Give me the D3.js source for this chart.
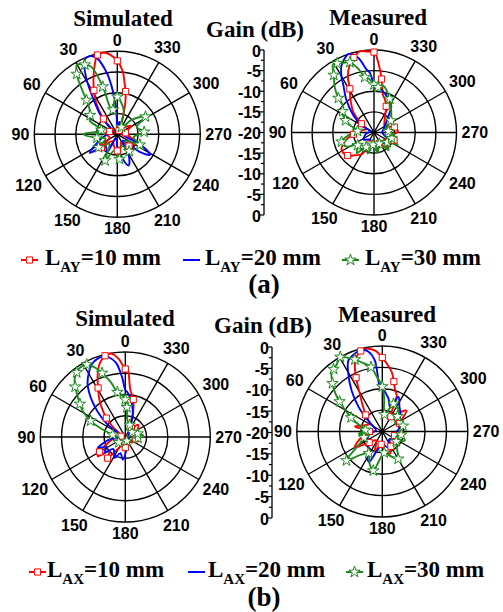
<!DOCTYPE html>
<html><head><meta charset="utf-8">
<script src="https://cdn.jsdelivr.net/npm/d3@7"></script>
<style>body{margin:0;background:#fff}svg{display:block}</style>
</head><body>
<svg id="c" width="503" height="612"></svg>
<script>
// ---- data: [angle (deg, counter-clockwise from top), gain (dB)] ----
const angleTicks = [0,30,60,90,120,150,180,210,240,270,300,330];
const gainTickLabels = ["0","-5","-10","-15","-20","-15","-10","-5","0"];
const ringLevels = [-15,-10,-5,0];
const legendA = ["AY","AY","AY"];
const legendB = ["AX","AX","AX"];
const legendValues = ["=10 mm","=20 mm","=30 mm"];

const simA10 = [[0,-2.3],[5,-0.8],[10,0],[14,-0.3],[18,-2.4],[23,-5.3],[28,-8],[32,-10],[37,-12.5],[42,-15],[48,-17.5],[55,-19],[70,-18],[90,-17],[110,-18],[130,-15],[145,-18],[165,-17],[180,-16],[195,-17],[210,-18],[225,-16],[245,-15],[260,-17],[280,-18],[300,-16],[320,-18],[335,-19],[342,-16],[346,-12],[349,-9.5],[352,-7.5],[355,-4.8]];
const simA20 = [[0,-18],[2,-16],[4,-12],[7,-8],[10,-4.7],[15,-1],[20,0],[24,-0.5],[29,-4.6],[34,-9.6],[42,-14.3],[50,-18.5],[65,-19],[85,-18],[105,-16],[124,-12],[135,-16],[150,-15],[165,-19],[180,-17],[192,-14],[200,-12],[208,-14],[220,-18],[232,-13],[238,-10.7],[244,-13],[255,-18],[275,-19],[300,-18],[330,-19],[350,-17]];
const simA30 = [[0,-11],[5,-12],[10,-14],[14,-13.8],[17,-8],[21,-2.6],[25,-1.5],[30,-0.6],[34,-2.5],[38,-6],[42,-8.9],[47,-10.8],[55,-12],[64,-12.7],[75,-16],[90,-11.8],[100,-15],[110,-17],[125,-14.5],[140,-17],[155,-13],[170,-16],[185,-14],[200,-17],[215,-15],[230,-17.5],[245,-14],[260,-16],[275,-13.5],[290,-15],[302,-12],[315,-15],[330,-18],[345,-14]];

const measA10 = [[0,-0.5],[5,-0.3],[10,0],[15,-1.2],[20,-2.7],[25,-5],[29,-7.9],[35,-10],[45,-12.9],[55,-16.3],[65,-18],[80,-17],[95,-15],[105,-13],[118,-11.1],[131,-11.5],[140,-12.8],[151,-14],[160,-17],[175,-18],[190,-16],[205,-17],[220,-15],[235,-17],[249,-14.8],[260,-16],[272,-14.2],[285,-14.9],[300,-17],[320,-16],[335,-13],[342,-11.5],[346,-10.8],[352,-6.9],[356,-3.5]];
const measA20 = [[0,-8.2],[4,-5.5],[7,-4.5],[12,-1.5],[18,0],[22,-0.8],[26,-2],[30,-4.2],[33,-6.4],[40,-9.5],[50,-13.4],[60,-16.5],[75,-19],[100,-18],[125,-17],[150,-18],[175,-17],[195,-16],[215,-17],[230,-15.5],[245,-16.5],[270,-18],[290,-17.5],[311,-16],[318,-14.9],[326,-12.5],[334,-11.5],[342,-10.5],[350,-9.5],[356,-8.8]];
const measA30 = [[0,-8.4],[5,-7],[9.5,-6.4],[14,-4],[19,-2],[24,-1.5],[28,-1],[31,-0.7],[35,-3],[41,-5.5],[46,-8],[50,-10.3],[56,-10.8],[61,-11.4],[67,-12.5],[73,-13.9],[85,-16],[95,-14],[106,-11.8],[117,-12.5],[128,-15],[140,-13.5],[152,-16],[164,-14.7],[176,-17],[190,-15],[205,-17],[220,-14.5],[233,-16],[242,-13.5],[252,-15.5],[263,-15],[275,-16.5],[290,-17],[305,-15],[320,-13.5],[335,-11],[349,-8.4],[355,-9]];

const simB10 = [[0,-4],[5,-1.5],[9.5,-0.1],[14,-0.3],[19,-1.6],[24,-4],[29,-6.8],[34,-9],[38,-10.8],[45,-13.7],[52,-16.5],[60,-18.5],[80,-19],[100,-17],[112,-15],[120,-13],[125,-12.1],[132,-15],[140,-13.5],[150,-17],[165,-18],[180,-17.5],[200,-19],[230,-18],[260,-17.5],[290,-17],[314,-15.8],[325,-17.5],[338,-17],[342,-14],[348,-11],[354,-8.8],[358,-4.2]];
const simB20 = [[0,-8.9],[3,-6],[7,-2.5],[11,-1],[15,-0.3],[20,-0.5],[24,-1],[28,-2.1],[35,-4.5],[40,-7],[45,-9.8],[50,-12.5],[55,-15],[62,-18],[80,-19],[100,-16],[112,-13],[118,-15],[127,-13.9],[135,-16],[145,-15.5],[153,-14.5],[163,-16],[174,-14.6],[185,-17],[200,-18.5],[230,-19],[270,-19],[300,-19],[330,-18],[340,-15],[347,-12.6],[352,-11],[357,-9.5]];
const simB30 = [[0,-11.2],[5,-10],[10,-9.3],[15,-6.5],[20,-4],[24,-2],[28,-0.7],[33,-0.5],[37,-1],[41.5,-2],[45,-3.3],[48.6,-4.9],[54,-6.8],[59,-8.4],[65,-11],[72,-14.5],[80,-17],[100,-18.5],[130,-18],[160,-19],[200,-19],[240,-18],[265,-17],[277,-15.8],[285,-17],[294,-16.7],[305,-18],[320,-17],[340,-17],[353,-16],[357,-13]];

const measB10 = [[0,-2.7],[5,-1],[10.7,-0.3],[15,-0.5],[19,-1.5],[22,-2.9],[26,-6],[30.7,-9.7],[36,-12],[45,-14.5],[60,-16.5],[79.6,-13.5],[90,-17],[105,-15],[119.8,-12.6],[130,-16],[145,-17.5],[160,-15],[175,-17],[188,-15.5],[199,-14.5],[210,-16],[225,-17.5],[240,-15.5],[252,-17],[264,-14.7],[278,-16],[295,-15.5],[310.8,-12.5],[318,-14],[330,-16],[338,-11],[342.8,-9.9],[347,-8],[351,-5.9],[355,-4.5]];
const measB20 = [[0,-10],[3,-9.6],[6,-3.3],[10,-1],[14.2,-0.3],[18,-0.5],[22,-1],[25.6,-1.6],[30,-4],[36.8,-8],[44,-12],[51,-15.3],[60,-17.5],[80,-18.5],[100,-17],[120,-16],[140,-15],[150,-13],[156.5,-12.2],[165,-15.5],[180,-17],[200,-16],[220,-17.5],[240,-16.5],[260,-17],[280,-16],[300,-15.5],[315,-14],[325,-13],[335,-11.1],[342,-14],[350,-12]];
const measB30 = [[0,-9.5],[5,-7.5],[10,-4.7],[15,-3.5],[20.9,-2],[25,-1],[29.4,0],[34,-1],[38,-1.5],[41,-1.9],[46,-3.8],[51,-5.9],[55,-7.8],[59.2,-9.6],[66,-12],[75,-14.5],[85,-16],[95,-14.5],[108,-15.5],[121.4,-13],[129,-9.2],[137,-12.5],[148,-14],[158,-12],[167,-10.6],[175,-13.5],[185,-15],[198,-14],[210,-12.6],[222,-15],[235,-16],[248,-14.3],[260,-15.5],[272,-16],[285,-15],[300,-16.5],[315,-15],[325,-13.5],[338,-13],[345,-15],[353,-16],[357,-12]];

// ---- styles ----
const colors = ["#ff0000","#0000ff","#1b8a1b"];
const serif = "'Liberation Serif','Times New Roman',serif";
const sans = "'Liberation Sans',Arial,sans-serif";
const svg = d3.select("#c");
const toRad = d => d*Math.PI/180;

const panels = [
  {cx:117.3, cy:134.3, R:83,   title:"Simulated", tx:123, ty:26,  data:[simA10,simA20,simA30]},
  {cx:374,   cy:132.5, R:82.5, title:"Measured",  tx:378, ty:25,  data:[measA10,measA20,measA30]},
  {cx:125.3, cy:437,   R:85,   title:"Simulated", tx:125, ty:326, data:[simB10,simB20,simB30]},
  {cx:382.3, cy:431.5, R:85.5, title:"Measured",  tx:387, ty:322, data:[measB10,measB20,measB30]}
];

panels.forEach(p => {
  const g = svg.append("g").attr("transform",`translate(${p.cx},${p.cy})`);
  const r = d3.scaleLinear().domain([-20,0]).range([0,p.R]).clamp(true);
  g.selectAll("circle.ring").data(ringLevels).join("circle")
    .attr("r", d => r(d)).attr("fill","none").attr("stroke","#000").attr("stroke-width",1.4);
  g.selectAll("line.sp").data(angleTicks).join("line")
    .attr("x1",0).attr("y1",0)
    .attr("x2", d => d3.pointRadial(-toRad(d), p.R)[0])
    .attr("y2", d => d3.pointRadial(-toRad(d), p.R)[1])
    .attr("stroke","#000").attr("stroke-width",1.4);
  angleTicks.forEach(a => {
    const s = String(a);
    const hw = s.length*4.45, hh = 6;
    const th = toRad(a);
    const dist = p.R + 5 + hw*Math.abs(Math.sin(th)) + hh*Math.abs(Math.cos(th));
    const [x,y] = d3.pointRadial(-th, dist);
    g.append("text").attr("x",x).attr("y",y).attr("text-anchor","middle")
      .attr("dominant-baseline","central").attr("font-family",sans)
      .attr("font-weight","bold").attr("font-size",16).text(s);
  });
  const line = d3.lineRadial().angle(d => -toRad(d[0])).radius(d => r(d[1]))
    .curve(d3.curveCatmullRomClosed.alpha(0.5));
  p.data.forEach((ser,i) => {
    g.append("path").attr("d", line(ser)).attr("fill","none")
      .attr("stroke",colors[i]).attr("stroke-width",1.9).attr("stroke-linejoin","round");
  });
  p.data.forEach((ser,i) => {
    if (i===1) return;
    const step = i===0 ? 3 : 2;
    const pts = ser.filter((d,k) => k%step===0);
    g.selectAll(null).data(pts).join("path")
      .attr("transform", d => { const [x,y]=d3.pointRadial(-toRad(d[0]), r(d[1])); return `translate(${x},${y})`; })
      .attr("d", d3.symbol().type(i===0?d3.symbolSquare:d3.symbolStar).size(i===0?38:40)())
      .attr("fill","#fff").attr("stroke",colors[i]).attr("stroke-width",1);
  });
  svg.append("text").attr("x",p.tx).attr("y",p.ty).attr("text-anchor","middle")
    .attr("font-family",serif).attr("font-weight","bold").attr("font-size",23).text(p.title);
});

// gain axes
const gainAxes = [{x:264, cy:132.5, R:82.5, tx:255, ty:37},{x:272, cy:432.5, R:85.5, tx:263, ty:333}];
gainAxes.forEach(ax => {
  const y = d3.scaleLinear().domain([0,8]).range([ax.cy-ax.R, ax.cy+ax.R]);
  const g = svg.append("g");
  g.append("line").attr("x1",ax.x).attr("x2",ax.x).attr("y1",y(0)).attr("y2",y(8))
    .attr("stroke","#000").attr("stroke-width",1.3);
  d3.range(0,8.01,0.5).forEach(v => {
    const major = Math.abs(v-Math.round(v))<1e-6;
    g.append("line").attr("x1",ax.x).attr("x2",ax.x-(major?5:3)).attr("y1",y(v)).attr("y2",y(v))
      .attr("stroke","#000").attr("stroke-width",1.2);
  });
  gainTickLabels.forEach((t,k) => {
    g.append("text").attr("x",ax.x-3).attr("y",y(k)+1).attr("text-anchor","end")
      .attr("dominant-baseline","central").attr("font-family",sans)
      .attr("font-weight","bold").attr("font-size",16).text(t);
  });
  svg.append("text").attr("x",ax.tx).attr("y",ax.ty).attr("text-anchor","middle")
    .attr("font-family",serif).attr("font-weight","bold").attr("font-size",23).text("Gain (dB)");
});

// legends
function legend(yBase, subs, symX, txtX) {
  subs.forEach((sub,i) => {
    const sy = yBase - 5;
    svg.append("line").attr("x1",symX[i]).attr("x2",symX[i]+17).attr("y1",sy).attr("y2",sy)
      .attr("stroke",colors[i]).attr("stroke-width",2);
    if (i!==1) {
      svg.append("path").attr("transform",`translate(${symX[i]+8.5},${sy})`)
        .attr("d", d3.symbol().type(i===0?d3.symbolSquare:d3.symbolStar).size(i===0?38:40)())
        .attr("fill","#fff").attr("stroke",colors[i]).attr("stroke-width",1);
    }
    const t = svg.append("text").attr("x",txtX[i]).attr("y",yBase)
      .attr("font-family",serif).attr("font-weight","bold").attr("font-size",23);
    t.append("tspan").text("L");
    t.append("tspan").attr("dy",7).attr("font-size",15).text(sub);
    t.append("tspan").attr("dy",-7).text(legendValues[i]);
  });
}
legend(265, legendA, [21,183,342], [45,205,365]);
legend(577, legendB, [29,188,346], [47,208,367]);

svg.append("text").attr("x",264).attr("y",293).attr("text-anchor","middle")
  .attr("font-family",serif).attr("font-weight","bold").attr("font-size",27).text("(a)");
svg.append("text").attr("x",264).attr("y",606).attr("text-anchor","middle")
  .attr("font-family",serif).attr("font-weight","bold").attr("font-size",27).text("(b)");
</script>
</body></html>
